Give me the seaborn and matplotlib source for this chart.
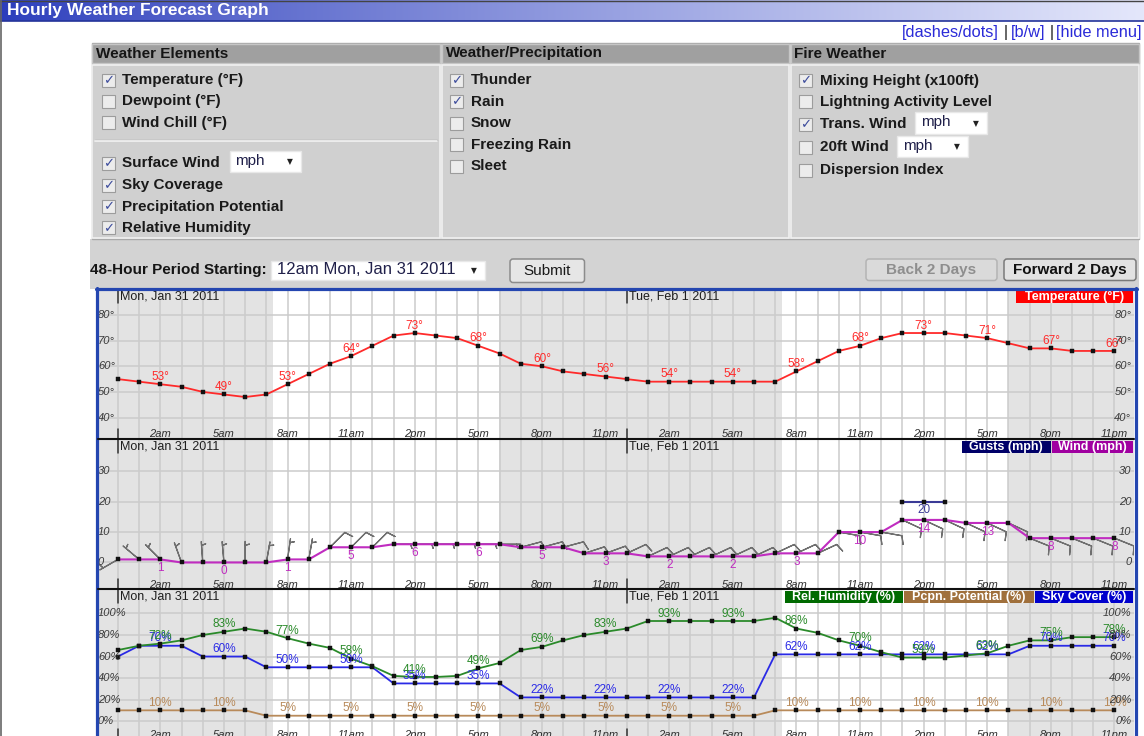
import numpy as np
import pandas as pd
import matplotlib
matplotlib.use("Agg")
import matplotlib.pyplot as plt
import matplotlib.colors as mcolors
import matplotlib.transforms as mtrans
from matplotlib.patches import Rectangle, FancyBboxPatch
import seaborn as sns

sns.set_theme(style="white")
plt.rcParams['font.family'] = ['Liberation Sans', 'DejaVu Sans']

# ---------------- data ----------------
hours = list(range(48))
hour_text = ["2am", "5am", "8am", "11am", "2pm", "5pm", "8pm", "11pm"] * 2
label_hours = list(range(2, 48, 3))
day_labels = ["Mon, Jan 31 2011", "Tue, Feb 1 2011"]
day_start_hours = [0, 24]

temperature = [55, 54, 53, 52, 50, 49, 48, 49, 53, 57, 61, 64, 68, 72, 73, 72, 71, 68, 65, 61, 60, 58, 57, 56,
               55, 54, 54, 54, 54, 54, 54, 54, 58, 62, 66, 68, 71, 73, 73, 73, 72, 71, 69, 67, 67, 66, 66, 66]
wind = [1, 1, 1, 0, 0, 0, 0, 0, 1, 1, 5, 5, 5, 6, 6, 6, 6, 6, 6, 5, 5, 5, 3, 3,
        3, 2, 2, 2, 2, 2, 2, 3, 3, 3, 10, 10, 10, 14, 14, 14, 13, 13, 13, 8, 8, 8, 8, 8]
gust_hours = [37, 38, 39]
gusts = [20, 20, 20]
# wind barbs: direction wind blows from (deg) and barb speed
barb_dir = [240, 310, 315, 340, 356, 355, 0, 10, 8, 10, 45, 45, 45, 90, 90, 90, 90, 90, 90, 75, 75, 75, 72, 70,
            65, 65, 65, 65, 65, 65, 65, 65, 65, 65, 100, 100, 100, 115, 115, 115, 115, 115, 115, 112, 112, 112, 112, 112]
barb_speed = [5, 5, 5, 5, 5, 5, 5, 5, 5, 5, 10, 10, 10, 5, 5, 5, 5, 5, 5, 10, 10, 10, 10, 10,
              10, 10, 10, 10, 10, 10, 10, 10, 10, 10, 10, 10, 10, 10, 10, 10, 10, 10, 10, 10, 10, 10, 10, 10]
rel_humidity = [66, 70, 72, 75, 80, 83, 86, 83, 77, 72, 68, 58, 51, 42, 41, 41, 42, 49, 54, 66, 69, 75, 80, 83,
                86, 93, 93, 93, 93, 93, 93, 96, 86, 82, 75, 70, 64, 59, 59, 59, 61, 63, 70, 75, 75, 78, 78, 78]
sky_cover = [60, 70, 70, 70, 60, 60, 60, 50, 50, 50, 50, 50, 50, 35, 35, 35, 35, 35, 35, 22, 22, 22, 22, 22,
             22, 22, 22, 22, 22, 22, 22, 62, 62, 62, 62, 62, 62, 62, 62, 62, 62, 62, 62, 70, 70, 70, 70, 70]
precip_pot = [10, 10, 10, 10, 10, 10, 10, 5, 5, 5, 5, 5, 5, 5, 5, 5, 5, 5, 5, 5, 5, 5, 5, 5,
              5, 5, 5, 5, 5, 5, 5, 10, 10, 10, 10, 10, 10, 10, 10, 10, 10, 10, 10, 10, 10, 10, 10, 10]

temp_ticks = [40, 50, 60, 70, 80]
wind_ticks = [0, 10, 20, 30]
pct_ticks = [0, 20, 40, 60, 80, 100]

df = pd.DataFrame({"hour": hours, "temp": temperature, "wind": wind, "rh": rel_humidity,
                   "sky": sky_cover, "pop": precip_pot})
gdf = pd.DataFrame({"hour": gust_hours, "gust": gusts})

# ---------------- figure ----------------
W, H = 1144, 736
fig = plt.figure(figsize=(W / 100, H / 100), dpi=100)
fig.patch.set_facecolor('white')


def px_axes(x0, y0, x1, y1, **kw):
    return fig.add_axes([x0 / W, 1 - y1 / H, (x1 - x0) / W, (y1 - y0) / H], **kw)


bg = px_axes(0, 0, W, H, zorder=-5)
bg.axis('off')


def rect(ax, x0, y0, x1, y1, **kw):
    ax.add_patch(Rectangle((x0, y0), x1 - x0, y1 - y0, **kw))


# title bar with gradient
c0 = np.array(mcolors.to_rgb('#2b3dbc'))
c1 = np.array(mcolors.to_rgb('#e4e7fb'))
tt = np.linspace(0, 1, 512) ** 0.85
grad = c0[None, :] * (1 - tt[:, None]) + c1[None, :] * tt[:, None]
bg.imshow(grad[None, :, :], extent=(0, W, 21, 0), aspect='auto', interpolation='bilinear', zorder=1)
bg.plot([0, W], [21, 21], color='#24349a', lw=1.2, zorder=2)
bg.plot([0, W], [0.5, 0.5], color='#444444', lw=1.0, zorder=2)
bg.plot([0.8, 0.8], [0, H], color='#666666', lw=1.2, zorder=2)
bg.text(7, 10.5, "Hourly Weather Forecast Graph", color='white', fontsize=12.5, fontweight='bold',
        ha='left', va='center', zorder=3)

# links
link_c = '#2a2ad8'
bg.text(902, 33, "[dashes/dots]", color=link_c, fontsize=11.8, ha='left', va='center')
bg.text(1004, 33, "|", color='#111', fontsize=11.5, ha='left', va='center')
bg.text(1011, 33, "[b/w]", color=link_c, fontsize=11.8, ha='left', va='center')
bg.text(1050, 33, "|", color='#111', fontsize=11.5, ha='left', va='center')
bg.text(1056, 33, "[hide menu]", color=link_c, fontsize=11.8, ha='left', va='center')

# form table
rect(bg, 90, 239, 1139, 289, fc='#d3d3d3', ec='none', zorder=1)
rect(bg, 91.5, 42.5, 1139, 239, fc='#cfcfcf', ec='#a9a9a9', lw=1, zorder=1)
cols = [(92, 440), (442, 789), (791, 1138.5)]
headers = ["Weather Elements", "Weather/Precipitation", "Fire Weather"]
for (x0, x1), htxt in zip(cols, headers):
    rect(bg, x0, 43.5, x1, 63, fc='#a0a0a0', ec='#c6c6c6', lw=1, zorder=2)
    rect(bg, x0, 65, x1, 238, fc='#d0d0d0', ec='#f0f0f0', lw=1.2, zorder=2)
    bg.text(x0 + 3.5, 53.5, htxt, fontsize=11, fontweight='bold', color='#151515', ha='left', va='center', zorder=3)
bg.plot([95, 437], [139.5, 139.5], color='#a8a8a8', lw=1, zorder=3)
bg.plot([95, 437], [141, 141], color='#f4f4f4', lw=1.2, zorder=3)


def checkbox(x, y, label, checked, tx):
    rect(bg, x, y - 6.5, x + 13, y + 6.5, fc='#ececec', ec='#9c9c9c', lw=0.8, zorder=3)
    if checked:
        bg.text(x + 6.5, y + 0.5, "\u2713", family='DejaVu Sans', fontsize=9.5, color='#3d4c9c',
                ha='center', va='center', zorder=4)
    bg.text(tx, y, label, fontsize=11, fontweight='bold', color='#1a1a1a', ha='left', va='center', zorder=4)


def dropdown(x0, y0, x1, y1, label, fs=11):
    rect(bg, x0, y0, x1, y1, fc='white', ec='#e8e8e8', lw=1, zorder=3)
    bg.text(x0 + 6, (y0 + y1) / 2 - 0.5, label, fontsize=fs, color='#20204a', ha='left', va='center', zorder=4)
    bg.text(x1 - 11, (y0 + y1) / 2 + 0.5, "\u25BC", family='DejaVu Sans', fontsize=5.5, color='#222',
            ha='center', va='center', zorder=4)


col1 = [("Temperature (\u00b0F)", 80, True), ("Dewpoint (\u00b0F)", 101.5, False),
        ("Wind Chill (\u00b0F)", 122.7, False), ("Surface Wind", 163.3, True),
        ("Sky Coverage", 185, True), ("Precipitation Potential", 206.5, True),
        ("Relative Humidity", 227.7, True)]
for lab, y, ck in col1:
    checkbox(102, y, lab, ck, 122.5)
dropdown(229.5, 150.7, 300.7, 171.7, "mph")

col2 = [("Thunder", 80, True), ("Rain", 101.5, True), ("Snow", 123, False),
        ("Freezing Rain", 144.5, False), ("Sleet", 166, False)]
for lab, y, ck in col2:
    checkbox(450, y, lab, ck, 471)

col3 = [("Mixing Height (x100ft)", 80.5, True), ("Lightning Activity Level", 101.7, False),
        ("Trans. Wind", 124, True), ("20ft Wind", 147.3, False), ("Dispersion Index", 170, False)]
for lab, y, ck in col3:
    checkbox(799, y, lab, ck, 820)
dropdown(915, 111.7, 986.7, 134, "mph")
dropdown(897.3, 136, 968.3, 156.7, "mph")

# bottom controls
bg.text(90, 270, "48-Hour Period Starting:", fontsize=11, fontweight='bold', color='#151515',
        ha='left', va='center', zorder=4)
dropdown(271, 260.5, 484.5, 280, "12am Mon, Jan 31 2011", fs=12)


def button(x0, y0, x1, y1, label, tc, bold, fc='#e2e2e2', ec='#8a8a8a'):
    bg.add_patch(FancyBboxPatch((x0, y0), x1 - x0, y1 - y0, boxstyle='round,pad=0,rounding_size=3',
                                fc=fc, ec=ec, lw=1.1, zorder=3))
    bg.text((x0 + x1) / 2, (y0 + y1) / 2, label, fontsize=11, color=tc,
            fontweight='bold' if bold else 'normal', ha='center', va='center', zorder=4)


button(510, 259, 584.5, 282.5, "Submit", '#1a1a1a', False, fc='#e6e6e6', ec='#8c8c8c')
button(866, 259, 997, 280.5, "Back 2 Days", '#8e8e8e', True, fc='#dadada', ec='#b4b4b4')
button(1004, 259, 1136, 280.5, "Forward 2 Days", '#111111', True, fc='#e2e2e2', ec='#7a7a7a')

bg.set_xlim(0, W)
bg.set_ylim(H, 0)

# ---------------- chart panels ----------------
AX0, AX1 = 98, 1134
XLIM = (-0.94, 47.92)
night_spans = [(-1.5, 7.3), (17.97, 31.3), (41.97, 49.0)]


def add_panel(y0, y1, ylim, yticks, fmt, lab_y):
    ax = px_axes(AX0, y0, AX1, y1)
    ax.set_facecolor('white')
    for a, b in night_spans:
        ax.axvspan(a, b, color='#e3e3e3', lw=0, zorder=0)
    ax.set_xticks(hours)
    ax.set_yticks(yticks)
    ax.grid(True, color='#cbcbcb', lw=1.1)
    ax.set_axisbelow(True)
    ax.tick_params(length=0, labelbottom=False, labelleft=False)
    for s in ax.spines.values():
        s.set_visible(False)
    tr = mtrans.blended_transform_factory(ax.transAxes, ax.transData)
    for t in yticks:
        ax.text(0.0, t, fmt(t), transform=tr, ha='left', va='center', fontsize=8,
                style='italic', color='#3a3a3a', zorder=6)
        ax.text(0.9975, t, fmt(t), transform=tr, ha='right', va='center', fontsize=8,
                style='italic', color='#3a3a3a', zorder=6)
    trx = mtrans.blended_transform_factory(ax.transData, ax.transAxes)
    for h, lab in zip(label_hours, hour_text):
        ax.text(h, lab_y, lab, transform=trx, ha='center', va='center', fontsize=8,
                style='italic', color='#2e2e2e', zorder=6)
    for h, dl in zip(day_start_hours, day_labels):
        ax.plot([h, h], [0.915, 1.0], transform=trx, color='#333333', lw=1.1, zorder=6)
        ax.plot([h, h], [0.0, 0.06], transform=trx, color='#333333', lw=1.1, zorder=6)
        ax.text(h + 0.1, 0.956, dl, transform=trx, ha='left', va='center', fontsize=9,
                color='#1e1e1e', zorder=6)
    ax.set_xlim(*XLIM)
    ax.set_ylim(*ylim)
    return ax


def line(ax, data, y, color, lw=1.3):
    sns.lineplot(data=data, x="hour", y=y, ax=ax, color=color, lw=lw, marker='s', markersize=3.2,
                 markerfacecolor='#111111', markeredgecolor='#111111', markeredgewidth=0.3,
                 legend=False, zorder=4)
    ax.set_xlabel("")
    ax.set_ylabel("")


def annotate(ax, hrs, vals, fmt, color, dy, va):
    for h in label_hours:
        v = vals[hrs.index(h)]
        ax.annotate(fmt(v), (h, v), xytext=(0, dy), textcoords='offset points', ha='center', va=va,
                    fontsize=8.5, color=color, zorder=5)


# Panel 1: temperature
ax1 = add_panel(290, 438, (32.0, 89.8), temp_ticks, lambda t: f"{t}\u00b0", 0.028)
line(ax1, df, "temp", '#ff2a2a')
annotate(ax1, hours, temperature, lambda v: f"{v}\u00b0", '#ff2a2a', 1.0, 'bottom')

# Panel 2: wind
ax2 = add_panel(440, 588, (-8.4, 40.3), wind_ticks, lambda t: f"{t}", 0.018)
rad = np.deg2rad(barb_dir)
spd = np.array(barb_speed, dtype=float)
u = -spd * np.sin(rad)
v = -spd * np.cos(rad)
ax2.barbs(hours, wind, u, v, length=5.5, pivot='tip', barbcolor='#6f6f6f', linewidth=0.9, zorder=3)
line(ax2, df, "wind", '#c02cc0', lw=1.5)
sns.lineplot(data=gdf, x="hour", y="gust", ax=ax2, color='#3a3a96', lw=1.5, marker='s', markersize=3.2,
             markerfacecolor='#111111', markeredgecolor='#111111', markeredgewidth=0.3, legend=False, zorder=4)
ax2.set_xlabel("")
ax2.set_ylabel("")
annotate(ax2, hours, wind, lambda v: f"{v}", '#c02cc0', -2.0, 'top')
ax2.annotate(f"{gusts[1]}", (gust_hours[1], gusts[1]), xytext=(0, -1.5), textcoords='offset points',
             ha='center', va='top', fontsize=8.5, color='#3a3a96', zorder=5)
ax2.set_xlim(*XLIM)
ax2.set_ylim(-8.4, 40.3)

# Panel 3: humidity / precip / sky
ax3 = add_panel(590, 738, (-15.7, 121.8), pct_ticks, lambda t: f"{t}%", 0.02)
line(ax3, df, "pop", '#b88a5a')
line(ax3, df, "sky", '#2a2ae6')
line(ax3, df, "rh", '#2a8a2a')
annotate(ax3, hours, precip_pot, lambda v: f"{v}%", '#b88a5a', 1.0, 'bottom')
annotate(ax3, hours, sky_cover, lambda v: f"{v}%", '#2a2ae6', 1.0, 'bottom')
annotate(ax3, hours, rel_humidity, lambda v: f"{v}%", '#2a8a2a', 1.0, 'bottom')
ax3.set_xlim(*XLIM)
ax3.set_ylim(-15.7, 121.8)
ax1.set_xlim(*XLIM)
ax1.set_ylim(32.0, 89.8)

# ---------------- overlay: legends & borders ----------------
ov = px_axes(0, 0, W, H, zorder=10)
ov.axis('off')
ov.patch.set_alpha(0)

legend_boxes = [
    (1016, 1133, 290.7, "Temperature (\u00b0F)", '#ff0000'),
    (961.5, 1051, 440.7, "Gusts (mph)", '#000068'),
    (1052, 1133, 440.7, "Wind (mph)", '#a000a0'),
    (785, 902.5, 590.7, "Rel. Humidity (%)", '#006a00'),
    (904, 1033.5, 590.7, "Pcpn. Potential (%)", '#a0703c'),
    (1034.5, 1133, 590.7, "Sky Cover (%)", '#0000cc'),
]
for x0, x1, y0, txt, col in legend_boxes:
    rect(ov, x0, y0, x1, y0 + 12, fc=col, ec='none', zorder=2)
    ov.text((x0 + x1) / 2, y0 + 6.3, txt, color='white', fontsize=9, fontweight='bold',
            ha='center', va='center', zorder=3)

border_c = '#2446b0'
ov.plot([96.5, 96.5], [288, H], color=border_c, lw=2.3, zorder=4)
ov.plot([95.5, 1137], [289, 289], color=border_c, lw=2.3, zorder=4)
ov.plot([1135.5, 1135.5], [288, H], color=border_c, lw=2.3, zorder=4)
ov.plot([AX0, AX1], [439, 439], color='#111111', lw=1.5, zorder=4)
ov.plot([AX0, AX1], [589, 589], color='#111111', lw=1.5, zorder=4)
ov.set_xlim(0, W)
ov.set_ylim(H, 0)

fig.savefig("out.png", dpi=100)
